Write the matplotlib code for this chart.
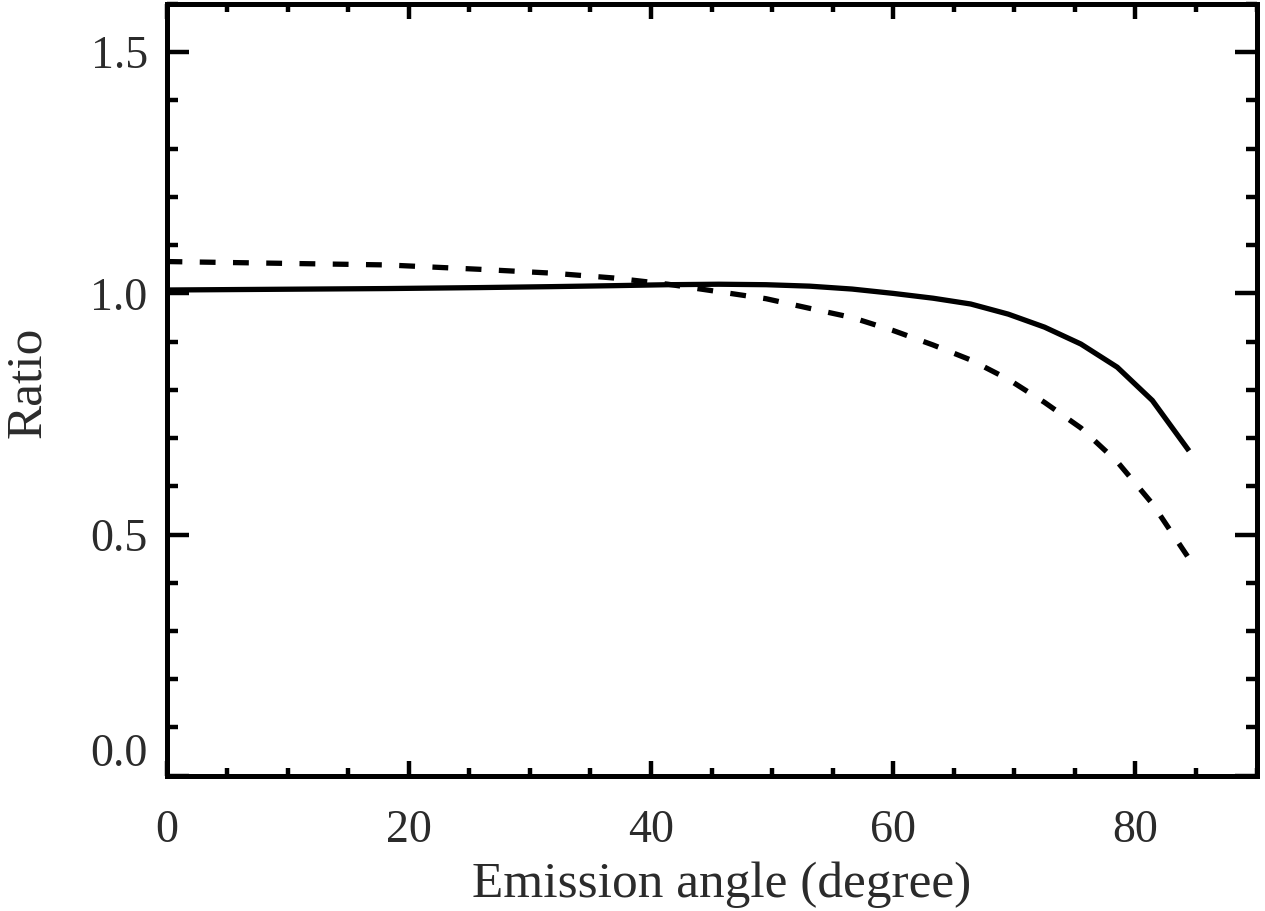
import matplotlib
matplotlib.use("Agg")
import matplotlib.pyplot as plt
from matplotlib.ticker import MultipleLocator, FixedLocator

# Emission angles (degree) of the model points
angle = [0.0, 18.2, 25.8, 31.8, 36.9, 41.4, 45.6, 49.5, 53.1, 56.6,
         60.0, 63.3, 66.4, 69.5, 72.5, 75.5, 78.5, 81.4, 84.3]
# Solid curve
ratio_solid = [1.007, 1.010, 1.012, 1.014, 1.016, 1.018, 1.019, 1.018, 1.015, 1.009,
               1.000, 0.990, 0.978, 0.957, 0.930, 0.895, 0.847, 0.778, 0.678]
# Dashed curve
ratio_dashed = [1.066, 1.059, 1.050, 1.042, 1.032, 1.019, 1.0035, 0.989, 0.969, 0.950,
                0.923, 0.893, 0.862, 0.822, 0.774, 0.721, 0.651, 0.564, 0.455]

x_ticks = [0, 20, 40, 60, 80]
y_ticks = [0.0, 0.5, 1.0, 1.5]
y_tick_labels = ["0.0", "0.5", "1.0", "1.5"]
x_tick_labels = ["0", "20", "40", "60", "80"]

plt.rcParams['font.family'] = ['Liberation Serif', 'DejaVu Serif']

W, H = 1265, 911
fig = plt.figure(figsize=(W / 100, H / 100), dpi=100)
L, R, T, B = 166.5, 1256.5, 4.0, 775.7
ax = fig.add_axes([L / W, 1 - B / H, (R - L) / W, (B - T) / H])

ax.plot(angle, ratio_solid, color='black', lw=3.8, solid_joinstyle='miter', zorder=3)
ax.plot(angle, ratio_dashed, color='black', lw=3.8, dashes=(3.0, 3.3),
        dash_capstyle='butt', zorder=3)

ax.set_xlim(0, 90)
ax.set_ylim(0, 1.6)

ax.xaxis.set_major_locator(FixedLocator(x_ticks))
ax.xaxis.set_minor_locator(MultipleLocator(5))
ax.yaxis.set_major_locator(FixedLocator(y_ticks))
ax.yaxis.set_minor_locator(MultipleLocator(0.1))
ax.set_xticklabels(x_tick_labels)
ax.set_yticklabels(y_tick_labels)

for s in ax.spines.values():
    s.set_linewidth(3.6)
    s.set_zorder(5)

text_color = '#2b2b2b'
ax.tick_params(axis='both', which='both', direction='in', top=True, right=True,
               width=3.2, color='black', labelcolor=text_color)
ax.tick_params(axis='y', which='major', length=15.5, pad=13.5, labelsize=33)
ax.tick_params(axis='y', which='minor', length=8)
ax.tick_params(axis='x', which='major', length=10.5, pad=24, labelsize=33)
ax.tick_params(axis='x', which='minor', length=5.5)

# IDL-style: lowest y label sits above the axis
ax.get_yticklabels()[0].set_verticalalignment('bottom')

fig.text(722 / W, 1 - 885 / H, "Emission angle (degree)", fontsize=37,
         ha='center', va='center', color=text_color)
fig.text(27.5 / W, 1 - 382 / H, "Ratio", fontsize=37, rotation=90,
         ha='center', va='center', color=text_color)

fig.savefig("out.png", dpi=100)
